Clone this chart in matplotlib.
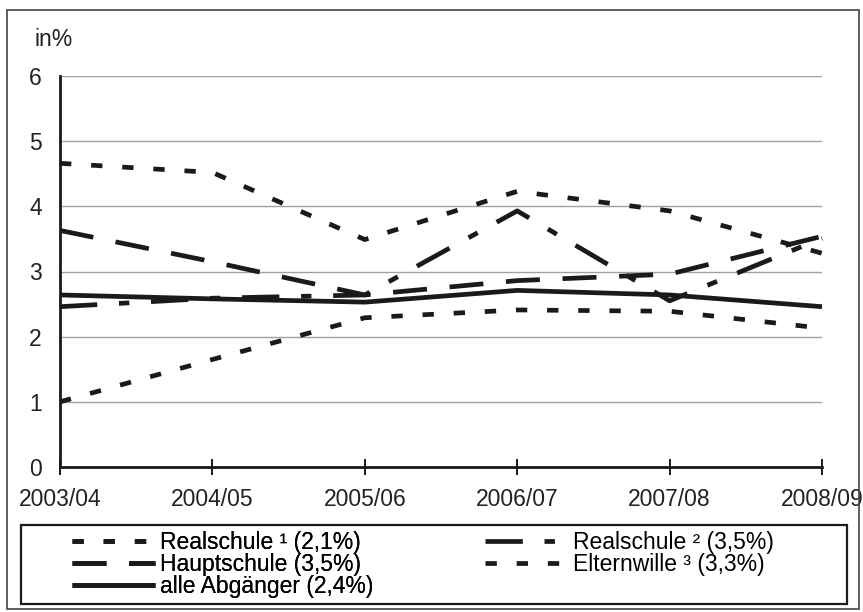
import numpy as np
import matplotlib
matplotlib.use("Agg")
import matplotlib.pyplot as plt
from matplotlib.patches import Rectangle

plt.rcParams['font.family'] = ['Liberation Sans', 'DejaVu Sans']

years = ["2003/04", "2004/05", "2005/06", "2006/07", "2007/08", "2008/09"]
realschule1 = [1.00, 1.65, 2.29, 2.41, 2.39, 2.13]
realschule2 = [2.46, 2.59, 2.64, 3.93, 2.55, 3.51]
hauptschule = [3.63, 3.15, 2.64, 2.86, 2.96, 3.54]
elternwille = [4.66, 4.52, 3.49, 4.23, 3.93, 3.28]
alle = [2.64, 2.58, 2.53, 2.71, 2.64, 2.46]

labels = ["Realschule ¹ (2,1%)", "Hauptschule (3,5%)", "alle Abgänger (2,4%)",
          "Realschule ² (3,5%)", "Elternwille ³ (3,3%)"]


def main():
    W, H = 863, 612
    fs = 16.5
    fig = plt.figure(figsize=(W / 100, H / 100), dpi=100)
    ax = fig.add_axes([60 / W, 1 - 467 / H, (822 - 60) / W, (467 - 76) / H])

    x = np.arange(len(years))
    lw = 3.4
    col = "#1a1a1a"

    l_r1, = ax.plot(x, realschule1, color=col, lw=lw, dashes=(2.4, 4.2), clip_on=False)
    l_h, = ax.plot(x, hauptschule, color=col, lw=lw, dashes=(7.2, 4.8), clip_on=False)
    l_a, = ax.plot(x, alle, color=col, lw=lw, solid_capstyle="butt", clip_on=False)
    l_r2, = ax.plot(x, realschule2, color=col, lw=lw, dashes=(7.9, 4.6, 2.2, 4.6), clip_on=False)
    l_e, = ax.plot(x, elternwille, color=col, lw=lw, dashes=(2.4, 4.2), clip_on=False)

    ax.set_xlim(0, 5)
    ax.set_ylim(0, 6)
    ax.set_yticks(range(0, 7))
    ax.set_xticks(x)
    ax.set_xticklabels(years)
    ax.grid(axis="y", color="#a0a0a0", lw=1.0)
    ax.set_axisbelow(True)
    for s in ["top", "right"]:
        ax.spines[s].set_visible(False)
    for s in ["left", "bottom"]:
        ax.spines[s].set_linewidth(2.0)
        ax.spines[s].set_color(col)
    ax.tick_params(axis="y", length=0, pad=13, labelsize=fs, colors="#222222")
    ax.tick_params(axis="x", direction="inout", length=12, width=1.4,
                   pad=9, labelsize=fs, colors="#222222")
    ax.tick_params(axis="x", color=col)

    fig.text(34 / W, 1 - 40 / H, "in%", fontsize=fs, color="#222222",
             ha="left", va="center")

    # Legende in zwei Spalten, Rahmen separat
    kw = dict(frameon=False, fontsize=fs, handlelength=3.6, handletextpad=0.25,
              labelspacing=-0.04, borderpad=0, borderaxespad=0, loc="upper left")
    leg1 = fig.legend([l_r1, l_h, l_a], labels[:3],
                      bbox_to_anchor=(72 / W, 1 - 531 / H), **kw)
    fig.legend([l_r2, l_e], labels[3:],
               bbox_to_anchor=(485 / W, 1 - 531 / H), **kw)
    fig.add_artist(leg1)

    fig.patches.append(Rectangle((21 / W, 1 - 604 / H), (847 - 21) / W, (604 - 525) / H,
                                 transform=fig.transFigure, fill=False,
                                 edgecolor=col, lw=1.6))
    fig.patches.append(Rectangle((7 / W, 1 - 609 / H), (859 - 7) / W, (609 - 10) / H,
                                 transform=fig.transFigure, fill=False,
                                 edgecolor="#444444", lw=1.2))

    fig.savefig("out.png", dpi=100)


if __name__ == "__main__":
    main()
